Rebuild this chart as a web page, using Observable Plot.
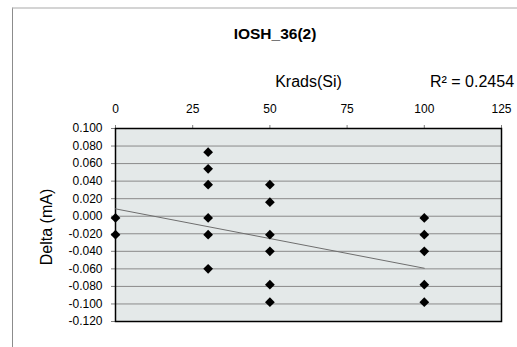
<!DOCTYPE html>
<html>
<head>
<meta charset="utf-8">
<script src="https://cdn.jsdelivr.net/npm/d3@7"></script>
<script src="https://cdn.jsdelivr.net/npm/@observablehq/plot@0.6"></script>
<style>
  html, body { margin: 0; padding: 0; background: #fff; }
  #wrap { position: relative; width: 517px; height: 347px; overflow: hidden; font-family: "Liberation Sans", Arial, sans-serif; }
  #outer { position: absolute; left: 12px; top: 7px; width: 600px; height: 400px; border-left: 1px solid #8c8c8c; border-top: 2px solid #d4d4d4; box-sizing: border-box; }
  .lbl { position: absolute; white-space: nowrap; color: #000; line-height: 1; }
  #title { left: 275px; top: 34px; transform: translate(-50%, -50%); font-weight: bold; font-size: 15.5px; }
  #xlab { left: 308.5px; top: 82px; transform: translate(-50%, -50%); font-size: 16px; }
  #r2 { left: 430px; top: 82px; transform: translate(0, -50%); font-size: 16px; }
  #ylab { left: 47px; top: 227px; transform: translate(-50%, -50%) rotate(-90deg); font-size: 16px; }
  svg { position: absolute; left: 0; top: 0; background: transparent !important; }
</style>
</head>
<body>
<div id="wrap">
  <div id="outer"></div>
</div>
<script>
// Data
const krads = [0, 0, 30, 30, 30, 30, 30, 30, 50, 50, 50, 50, 50, 50, 100, 100, 100, 100, 100];
const delta = [-0.002, -0.021, 0.073, 0.054, 0.036, -0.002, -0.021, -0.060, 0.036, 0.016, -0.021, -0.040, -0.078, -0.098, -0.002, -0.021, -0.040, -0.078, -0.098];
const trendX = [0, 100];
const trendY = [0.0084, -0.0593];
const xTicks = [0, 25, 50, 75, 100, 125];
const yTicks = [0.1, 0.08, 0.06, 0.04, 0.02, 0, -0.02, -0.04, -0.06, -0.08, -0.1, -0.12];
const titleText = "IOSH_36(2)";
const xLabel = "Krads(Si)";
const yLabel = "Delta (mA)";
const r2Text = "R² = 0.2454";

const points = krads.map((k, i) => ({x: k, y: delta[i]}));
const trend = trendX.map((k, i) => ({x: k, y: trendY[i]}));
const yGrid = yTicks.slice(1, -1);

const chart = Plot.plot({
  width: 517,
  height: 347,
  marginLeft: 115,
  marginRight: 16,
  marginTop: 128,
  marginBottom: 26,
  style: {fontFamily: "'Liberation Sans', Arial, sans-serif", fontSize: "12px", background: "transparent", overflow: "visible"},
  x: {domain: [0, 125]},
  y: {domain: [-0.12, 0.1]},
  marks: [
    Plot.frame({fill: "#e4e9e9", stroke: null}),
    Plot.ruleY(yGrid, {stroke: "#8a8a8a", strokeWidth: 1}),
    Plot.frame({stroke: "#000", strokeWidth: 1.5}),
    Plot.axisX({anchor: "top", ticks: xTicks, tickSize: 4, tickPadding: 12, label: null, tickFormat: d => String(d), strokeOpacity: 0.5}),
    Plot.axisY({anchor: "left", ticks: yTicks, tickSize: 4, tickPadding: 9, label: null, tickFormat: d => d.toFixed(3), strokeOpacity: 0.5}),
    Plot.line(trend, {x: "x", y: "y", stroke: "#6e6e6e", strokeWidth: 1}),
    Plot.dot(points, {x: "x", y: "y", symbol: "diamond2", r: 4.4, fill: "#000", stroke: null})
  ]
});

const wrap = document.getElementById("wrap");
wrap.appendChild(chart);
function addLabel(id, text) {
  const d = document.createElement("div");
  d.id = id; d.className = "lbl"; d.textContent = text;
  wrap.appendChild(d);
}
addLabel("title", titleText);
addLabel("xlab", xLabel);
addLabel("r2", r2Text);
addLabel("ylab", yLabel);
</script>
</body>
</html>
